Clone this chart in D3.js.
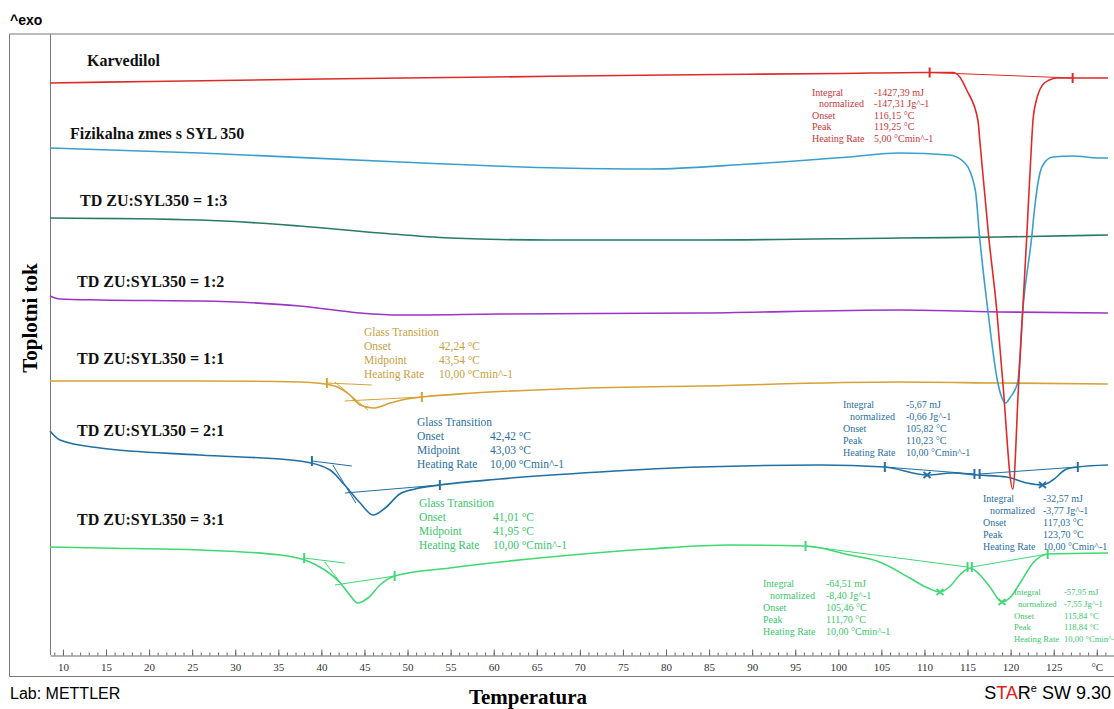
<!DOCTYPE html>
<html>
<head>
<meta charset="utf-8">
<script src="https://cdn.jsdelivr.net/npm/d3@7"></script>
<style>
    body { margin: 0; background: #fff; }
    svg { display: block; }
    .curve-label { font-family: "Liberation Serif", "Times New Roman", serif; font-weight: bold; font-size: 16px; fill: #111; }
    .note { font-family: "Liberation Serif", "Times New Roman", serif; }
    .axis text { font-family: "Liberation Serif", "Times New Roman", serif; font-size: 11px; fill: #333; }
    .axis path, .axis line { stroke: #666; }
</style>
</head>
<body>
<svg id="chart" width="1114" height="709"></svg>
<script>
// DSC curves: [temperature °C, heat flow (arbitrary units, curves stacked)]
const karvedilol = [
    [8.5, 57.2], [20, 57.35], [40, 57.6], [60, 57.8], [80, 58.0], [100, 58.15], [110, 58.25],
    [113.3, 58.25], [114.1, 57.8], [114.9, 56.5], [116.2, 53.5], [116.42, 51.5], [117.46, 41.8],
    [118.39, 34.5], [119.09, 27.3], [120.25, 16.6], [120.94, 27.3], [121.41, 34.5], [121.87, 41.8],
    [122.45, 51.5], [122.6, 53.5], [123.0, 55.5], [123.7, 57.0], [124.5, 57.5], [125.35, 57.7], [131.3, 57.7]
];
const fizikalnaZmes = [
    [8.5, 50.7], [25.9, 50.2], [49.1, 49.3], [67.7, 48.7], [78.1, 48.6], [89.7, 49.1], [101.3, 49.8],
    [107.1, 50.2], [112.9, 50.0], [114.7, 49.2], [115.9, 46.5], [116.4, 41.8], [117.35, 34.5],
    [118.5, 27.3], [119.0, 25.7], [119.43, 25.2], [119.9, 25.7], [120.83, 27.3], [121.41, 34.5],
    [122.45, 41.8], [122.8, 44.8], [123.4, 48.2], [124.0, 49.3], [124.9, 49.8], [127.2, 49.9],
    [130.3, 49.7], [131.3, 49.7]
];
const td13 = [
    [8.5, 43.7], [25.9, 43.5], [37.5, 42.9], [46.8, 42.2], [54.9, 41.7], [66.5, 41.5], [83.9, 41.5],
    [107.1, 41.7], [118.7, 41.8], [131.3, 42.0]
];
const td12 = [
    [8.5, 35.9], [9.65, 35.6], [14.3, 35.5], [25.9, 35.4], [37.5, 34.9], [44.5, 34.2], [49.1, 34.0],
    [60.7, 34.1], [83.9, 34.2], [107.1, 34.5], [114.1, 34.4], [118.7, 34.3], [131.3, 34.2]
];
const td11 = [
    [8.5, 27.4], [25.9, 27.4], [37.5, 27.3], [40.4, 27.1], [42.1, 26.7], [43.3, 26.0], [44.5, 25.0],
    [46.0, 24.7], [48.0, 25.2], [49.9, 25.6], [51.7, 25.8], [57.6, 26.2], [67.7, 26.6], [83.9, 26.9],
    [107.1, 27.3], [118.7, 27.2], [131.3, 27.1]
];
const td21 = [
    [8.5, 22.4], [9.65, 21.5], [14.3, 20.7], [25.9, 20.0], [37.5, 19.4], [41.0, 18.5], [42.7, 17.0],
    [44.5, 15.2], [46.0, 14.0], [47.4, 14.7], [49.1, 16.1], [50.85, 16.6], [53.75, 17.0], [60.7, 17.6],
    [72.3, 18.3], [83.9, 18.8], [97.85, 19.0], [105.4, 18.8], [110.3, 18.0], [113.3, 18.2], [116.1, 18.0],
    [119.55, 17.8], [121.9, 17.2], [123.7, 17.0], [124.9, 17.5], [126.5, 18.6], [127.8, 18.8], [131.3, 19.0]
];
const td31 = [
    [8.5, 10.8], [14.3, 10.7], [25.9, 10.5], [35.2, 10.0], [38.1, 9.5], [40.4, 8.5], [42.1, 7.3],
    [43.3, 6.0], [44.2, 5.2], [45.4, 5.7], [46.8, 7.0], [48.5, 7.9], [54.9, 8.7], [66.5, 9.8],
    [78.1, 10.6], [87.4, 11.0], [96.2, 10.9], [101.3, 10.0], [104.8, 9.3], [108.3, 7.7], [110.4, 6.7],
    [111.8, 6.3], [113.0, 6.9], [114.1, 8.0], [115.3, 8.7], [116.45, 8.0], [117.6, 6.8], [119.0, 5.3],
    [120.1, 5.9], [121.1, 7.2], [122.6, 9.2], [124.3, 10.1], [131.3, 10.2]
];

// Curve names
const curveNames = [
    'Karvedilol', 'Fizikalna zmes s SYL 350', 'TD ZU:SYL350 = 1:3', 'TD ZU:SYL350 = 1:2',
    'TD ZU:SYL350 = 1:1', 'TD ZU:SYL350 = 2:1', 'TD ZU:SYL350 = 3:1'
];

// Evaluation marks: limits (|), peaks (x), integration baselines, glass transition tangents
const karvLimits = [[110.6, 58.25], [127.2, 57.7]];
const karvBaseline = [[110.6, 58.25], [127.2, 57.7]];

const td11Limits = [[40.64, 27.2], [51.66, 25.8]];
const td11Tangents = [
    [[41.57, 27.3], [45.4, 24.5]],
    [[42.7, 25.4], [51.66, 25.8]],
    [[40.64, 27.2], [45.86, 27.0]]
];

const td21Limits = [[38.9, 19.4], [53.75, 17.0], [105.4, 18.8], [115.8, 18.1], [116.4, 18.1], [127.8, 18.8]];
const td21Peaks = [[110.3, 18.0], [123.7, 17.0]];
const td21Tangents = [
    [[38.9, 19.4], [43.54, 18.9]],
    [[41.33, 19.0], [44.0, 15.2]],
    [[42.73, 16.2], [53.75, 17.0]]
];
const td21Baselines = [
    [[105.4, 18.8], [115.8, 18.1]],
    [[116.4, 18.1], [127.8, 18.8]]
];

const td31Limits = [[38.0, 9.7], [48.5, 7.9], [96.2, 10.9], [115.0, 8.8], [115.5, 8.8], [124.3, 10.1]];
const td31Peaks = [[111.8, 6.3], [119.0, 5.3]];
const td31Tangents = [
    [[37.97, 9.7], [42.73, 9.2]],
    [[40.4, 9.3], [43.54, 5.7]],
    [[41.57, 7.0], [48.53, 7.9]]
];
const td31Baselines = [
    [[96.2, 10.9], [115.0, 8.8]],
    [[115.5, 8.8], [124.3, 10.1]]
];

// Result tables
const karvPeakText = [
    ['Integral', '-1427,39 mJ'], ['  normalized', '-147,31 Jg^-1'], ['Onset', '116,15 °C'],
    ['Peak', '119,25 °C'], ['Heating Rate', '5,00 °Cmin^-1']
];
const td11GlassText = [
    ['Glass Transition', ''], ['Onset', '42,24 °C'], ['Midpoint', '43,54 °C'], ['Heating Rate', '10,00 °Cmin^-1']
];
const td21GlassText = [
    ['Glass Transition', ''], ['Onset', '42,42 °C'], ['Midpoint', '43,03 °C'], ['Heating Rate', '10,00 °Cmin^-1']
];
const td31GlassText = [
    ['Glass Transition', ''], ['Onset', '41,01 °C'], ['Midpoint', '41,95 °C'], ['Heating Rate', '10,00 °Cmin^-1']
];
const td21Peak1Text = [
    ['Integral', '-5,67 mJ'], ['  normalized', '-0,66 Jg^-1'], ['Onset', '105,82 °C'],
    ['Peak', '110,23 °C'], ['Heating Rate', '10,00 °Cmin^-1']
];
const td21Peak2Text = [
    ['Integral', '-32,57 mJ'], ['  normalized', '-3,77 Jg^-1'], ['Onset', '117,03 °C'],
    ['Peak', '123,70 °C'], ['Heating Rate', '10,00 °Cmin^-1']
];
const td31Peak1Text = [
    ['Integral', '-64,51 mJ'], ['  normalized', '-8,40 Jg^-1'], ['Onset', '105,46 °C'],
    ['Peak', '111,70 °C'], ['Heating Rate', '10,00 °Cmin^-1']
];
const td31Peak2Text = [
    ['Integral', '-57,95 mJ'], ['  normalized', '-7,55 Jg^-1'], ['Onset', '115,84 °C'],
    ['Peak', '118,84 °C'], ['Heating Rate', '10,00 °Cmin^-1']
];

const xDomain = [8.5, 132];
const majorTicks = d3.range(10, 131, 5);
const minorTicks = d3.range(9, 132, 1);

// ---- drawing ----
const colors = {
    red: '#e02a2a', lightBlue: '#3a9fcc', teal: '#2a7a66', purple: '#9a35c8',
    gold: '#d6a235', darkBlue: '#226fa2', green: '#3fd874'
};

const svg = d3.select('#chart');
const x = d3.scaleLinear().domain(xDomain).range([50, 1114]);
const y = d3.scaleLinear().domain([0, 62.1]).range([655, 34]);

const line = d3.line()
    .x(d => x(d[0]))
    .y(d => y(d[1]))
    .curve(d3.curveMonotoneX);

// Frame
svg.append('path')
    .attr('d', 'M1114,34H9.5V676.5H1114')
    .attr('fill', 'none').attr('stroke', '#777').attr('stroke-width', 1);
svg.append('line')
    .attr('x1', 50.5).attr('x2', 50.5).attr('y1', 34).attr('y2', 655)
    .attr('stroke', '#777');

// X axis (ticks point upward)
svg.append('g')
    .attr('class', 'axis')
    .attr('transform', 'translate(0,655.5)')
    .call(d3.axisBottom(x).tickValues(minorTicks).tickSizeInner(-3).tickSizeOuter(0).tickFormat(''))
    .call(g => g.select('.domain').remove());

svg.append('g')
    .attr('class', 'axis')
    .attr('transform', 'translate(0,655.5)')
    .call(d3.axisBottom(x).tickValues(majorTicks).tickSizeInner(-6).tickSizeOuter(0).tickPadding(8)
        .tickFormat(d => d === 130 ? '°C' : d));

// Curves
const series = [
    [karvedilol, colors.red], [fizikalnaZmes, colors.lightBlue], [td13, colors.teal],
    [td12, colors.purple], [td11, colors.gold], [td21, colors.darkBlue], [td31, colors.green]
];

// Draw order: red on top of blue peak
const drawOrder = [2, 3, 4, 5, 6, 1, 0];
drawOrder.forEach(i => {
    svg.append('path')
        .datum(series[i][0])
        .attr('fill', 'none')
        .attr('stroke', series[i][1])
        .attr('stroke-width', 1.6)
        .attr('stroke-linejoin', 'round')
        .attr('d', line);
});

// Thin evaluation lines
function segments(list, color) {
    svg.append('g').selectAll('line')
        .data(list)
        .enter().append('line')
        .attr('x1', d => x(d[0][0])).attr('y1', d => y(d[0][1]))
        .attr('x2', d => x(d[1][0])).attr('y2', d => y(d[1][1]))
        .attr('stroke', color).attr('stroke-width', 1);
}
segments([karvBaseline], colors.red);
segments(td11Tangents, colors.gold);
segments(td21Tangents, colors.darkBlue);
segments(td21Baselines, colors.darkBlue);
segments(td31Tangents, colors.green);
segments(td31Baselines, colors.green);

function limitMarks(list, color) {
    svg.append('g').selectAll('line')
        .data(list)
        .enter().append('line')
        .attr('x1', d => x(d[0])).attr('x2', d => x(d[0]))
        .attr('y1', d => y(d[1]) - 5).attr('y2', d => y(d[1]) + 5)
        .attr('stroke', color).attr('stroke-width', 2);
}
limitMarks(karvLimits, colors.red);
limitMarks(td11Limits, colors.gold);
limitMarks(td21Limits, colors.darkBlue);
limitMarks(td31Limits, colors.green);

function peakMarks(list, color) {
    const g = svg.append('g');
    list.forEach(d => {
        const cx = x(d[0]), cy = y(d[1]);
        g.append('path')
            .attr('d', `M${cx - 3.5},${cy - 3}L${cx + 3.5},${cy + 3}M${cx - 3.5},${cy + 3}L${cx + 3.5},${cy - 3}`)
            .attr('stroke', color).attr('stroke-width', 1.8);
    });
}
peakMarks(td21Peaks, colors.darkBlue);
peakMarks(td31Peaks, colors.green);

// Curve labels
const labelPos = [[87, 66], [70, 139], [80, 206], [77, 287], [77, 364], [77, 436], [77, 525]];
curveNames.forEach((name, i) => {
    svg.append('text')
        .attr('class', 'curve-label')
        .attr('x', labelPos[i][0]).attr('y', labelPos[i][1])
        .text(name);
});

// Result tables
function table(rows, x0, y0, valueX, step, size, color, indent = 7) {
    const g = svg.append('g').attr('class', 'note')
        .style('font-size', size + 'px').attr('fill', color);
    rows.forEach((r, i) => {
        g.append('text')
            .attr('x', x0 + (r[0].startsWith('  ') ? indent : 0))
            .attr('y', y0 + i * step)
            .text(r[0].trim());
        if (r[1]) {
            g.append('text').attr('x', valueX).attr('y', y0 + i * step).text(r[1]);
        }
    });
}
table(karvPeakText, 812, 95.5, 874, 11.6, 10, '#c8373a');
table(td11GlassText, 364, 336, 439, 14, 11.5, '#c9a043');
table(td21GlassText, 417, 426, 490, 14, 11.5, '#2a70a0');
table(td31GlassText, 419, 507, 493, 14, 11.5, '#3cc56c');
table(td21Peak1Text, 843, 407.5, 906, 12, 10, '#2a70a0');
table(td21Peak2Text, 983, 501.5, 1043, 12, 10, '#2a70a0');
table(td31Peak1Text, 763, 586.5, 826, 12.2, 10, '#3cc56c');
table(td31Peak2Text, 1014, 595, 1064, 11.8, 8.6, '#3cc56c', 4);

// Axis titles and footer
svg.append('text')
    .attr('x', 10).attr('y', 25)
    .style('font-family', '"Liberation Sans", Arial, sans-serif')
    .style('font-size', '14px').style('font-weight', 'bold')
    .text('^exo');

svg.append('text')
    .attr('transform', 'translate(37,318) rotate(-90)')
    .attr('text-anchor', 'middle')
    .style('font-family', '"Liberation Serif", "Times New Roman", serif')
    .style('font-size', '21px').style('font-weight', 'bold')
    .text('Toplotni tok');

svg.append('text')
    .attr('x', 528).attr('y', 704)
    .attr('text-anchor', 'middle')
    .style('font-family', '"Liberation Serif", "Times New Roman", serif')
    .style('font-size', '21px').style('font-weight', 'bold')
    .text('Temperatura');

svg.append('text')
    .attr('x', 10).attr('y', 699)
    .style('font-family', '"Liberation Sans", Arial, sans-serif')
    .style('font-size', '16px')
    .text('Lab: METTLER');

const star = svg.append('text')
    .attr('x', 1111).attr('y', 699)
    .attr('text-anchor', 'end')
    .style('font-family', '"Liberation Sans", Arial, sans-serif')
    .style('font-size', '18px');
star.append('tspan').text('S');
star.append('tspan').attr('fill', '#e02020').text('TA');
star.append('tspan').text('R');
star.append('tspan').attr('dy', -7).style('font-size', '11px').text('e');
star.append('tspan').attr('dy', 7).text(' SW 9.30');
</script>
</body>
</html>
